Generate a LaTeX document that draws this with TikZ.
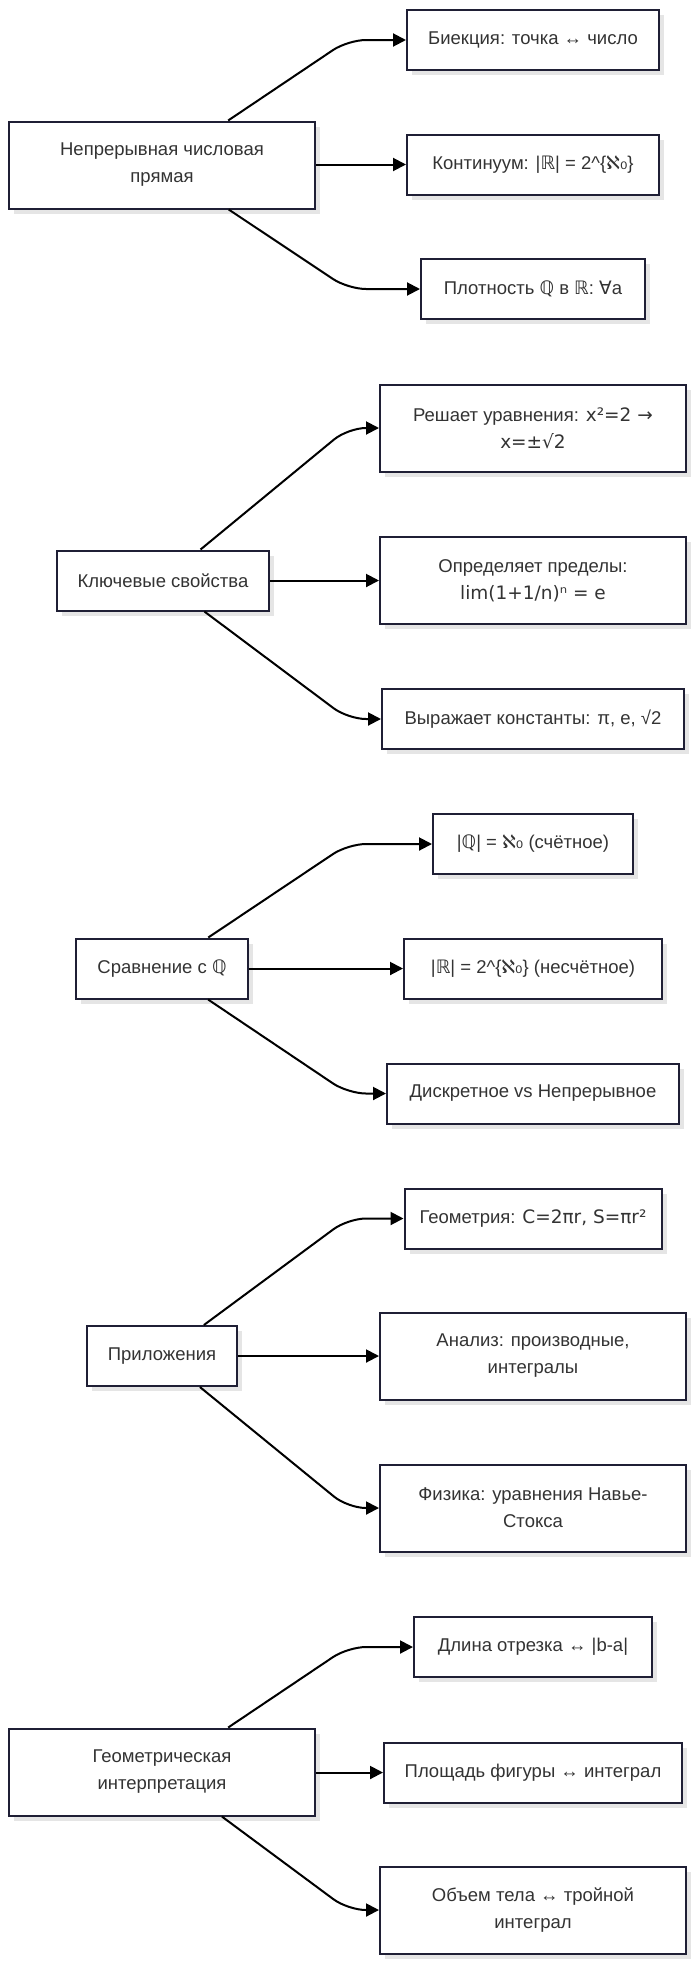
\documentclass[tikz,border=0pt]{standalone}
\usepackage{fontspec}
\setmainfont{Liberation Sans}
\newfontfamily\symf{DejaVu Sans}
\usetikzlibrary{arrows.meta,shadows}
\definecolor{boxc}{HTML}{1F1F35}
\definecolor{txtc}{HTML}{333333}
\newcommand{\sy}[1]{{\symf #1}}
\tikzset{
  bx/.style={draw=boxc, line width=2pt, fill=white, rectangle, inner sep=0pt,
    align=center, text=txtc, font=\fontsize{18.5}{27}\selectfont,
    drop shadow={shadow xshift=5pt, shadow yshift=-5pt, fill=black!10, opacity=1}},
  conn/.style={draw=black, line width=2pt, rounded corners=18pt,
    -{Triangle[length=13pt,width=13pt]}}
}
\begin{document}
\begin{tikzpicture}[x=1pt,y=-1pt]
\useasboundingbox[fill=white] (0,0) rectangle (700,1976);

% Group 1
\node[bx, minimum width=306pt, minimum height=87pt] (m1) at (162,165) {Непрерывная числовая\\прямая};
\node[bx, minimum width=252pt, minimum height=60pt] (a) at (533,40) {Биекция: точка ↔ число};
\node[bx, minimum width=252pt, minimum height=60pt] (b) at (533,164.5) {Континуум: |\sy{ℝ}| = 2\textasciicircum\{\sy{ℵ₀}\}};
\node[bx, minimum width=224pt, minimum height=60pt] (c) at (533,289) {Плотность \sy{ℚ} в \sy{ℝ}: \sy{∀}a};
\coordinate (ka) at (348,40);
\coordinate (kc) at (348,289);
\draw[conn] (m1) -- (ka) -- (a.west);
\draw[conn] (m1.east |- b.west) -- (b.west);
\draw[conn] (m1) -- (kc) -- (c.west);

% Group 2
\node[bx, minimum width=212pt, minimum height=60pt] (m2) at (163,580.5) {Ключевые свойства};
\node[bx, minimum width=306pt, minimum height=87pt] (d) at (533,428) {Решает уравнения: \sy{x²=2 →}\\\sy{x=±√2}};
\node[bx, minimum width=306pt, minimum height=87pt] (e) at (533,580.5) {Определяет пределы:\\\sy{lim(1+1/n)ⁿ = e}};
\node[bx, minimum width=302pt, minimum height=60pt] (f) at (533,719) {Выражает константы: π, e, √2};
\coordinate (kd) at (348,428);
\coordinate (kf) at (348,719);
\draw[conn] (m2) -- (kd) -- (d.west);
\draw[conn] (m2.east) -- (e.west);
\draw[conn] (m2) -- (kf) -- (f.west);

% Group 3
\node[bx, minimum width=172pt, minimum height=60pt] (m3) at (162,968.5) {Сравнение с \sy{ℚ}};
\node[bx, minimum width=200pt, minimum height=60pt] (g) at (533,844) {|\sy{ℚ}| = \sy{ℵ₀} (счётное)};
\node[bx, minimum width=258pt, minimum height=60pt] (h) at (533,968.5) {|\sy{ℝ}| = 2\textasciicircum\{\sy{ℵ₀}\} (несчётное)};
\node[bx, minimum width=292pt, minimum height=60pt] (i) at (533,1093.5) {Дискретное vs Непрерывное};
\coordinate (kg) at (348,844);
\coordinate (ki) at (348,1093.5);
\draw[conn] (m3) -- (kg) -- (g.west);
\draw[conn] (m3.east) -- (h.west);
\draw[conn] (m3) -- (ki) -- (i.west);

% Group 4
\node[bx, minimum width=150pt, minimum height=60pt] (m4) at (162,1356) {Приложения};
\node[bx, minimum width=257pt, minimum height=60pt] (j) at (533,1218.5) {Геометрия: \sy{C=2πr, S=πr²}};
\node[bx, minimum width=306pt, minimum height=87pt] (k) at (533,1356) {Анализ: производные,\\интегралы};
\node[bx, minimum width=306pt, minimum height=87pt] (l) at (533,1508) {Физика: уравнения Навье-\\Стокса};
\coordinate (kj) at (348,1218.5);
\coordinate (kl) at (348,1508);
\draw[conn] (m4) -- (kj) -- (j.west);
\draw[conn] (m4.east) -- (k.west);
\draw[conn] (m4) -- (kl) -- (l.west);

% Group 5
\node[bx, minimum width=306pt, minimum height=87pt] (m5) at (162,1772) {Геометрическая\\интерпретация};
\node[bx, minimum width=238pt, minimum height=60pt] (n) at (533,1647) {Длина отрезка ↔ |b-a|};
\node[bx, minimum width=298pt, minimum height=60pt] (o) at (533,1772.5) {Площадь фигуры ↔ интеграл};
\node[bx, minimum width=306pt, minimum height=87pt] (p) at (533,1910) {Объем тела ↔ тройной\\интеграл};
\coordinate (kn) at (348,1647);
\coordinate (kp) at (348,1910);
\draw[conn] (m5) -- (kn) -- (n.west);
\draw[conn] (m5.east |- o.west) -- (o.west);
\draw[conn] (m5) -- (kp) -- (p.west);
\end{tikzpicture}
\end{document}
